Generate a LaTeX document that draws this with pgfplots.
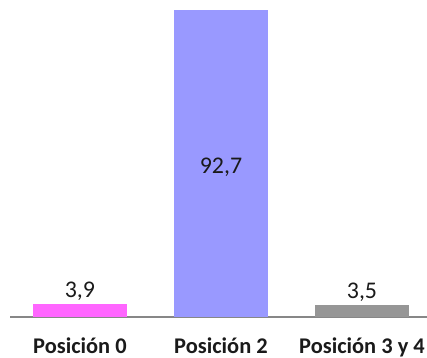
\documentclass[border=0pt]{standalone}
\usepackage{fontspec}
\setmainfont{Carlito}
\usepackage{pgfplots}
\pgfplotsset{compat=1.18}
\definecolor{rosa}{HTML}{FF66FF}
\definecolor{lila}{HTML}{9999FF}
\definecolor{gris}{HTML}{969696}
\definecolor{eje}{HTML}{878787}
\definecolor{texto}{HTML}{1A1A1A}
\begin{document}
\begin{tikzpicture}
\useasboundingbox (-10bp,-41bp) rectangle (417bp,317bp);
\begin{axis}[
  at={(0,0)}, anchor=south west,
  scale only axis, width=417bp, height=317bp,
  xmin=-0.496, xmax=2.461, ymin=0, ymax=95.6,
  enlargelimits=false,
  axis x line*=bottom, axis y line=none,
  x axis line style={eje, line width=1.5bp, -},
  xtick={0,1,2},
  xticklabels={Posición 0, Posición 2, Posición 3 y 4},
  major tick length=0pt, ytick=\empty,
  xticklabel style={font=\bfseries\fontsize{22.5}{22.5}\selectfont, text=texto, yshift=-17bp},
  ybar, bar width=0.667, bar shift=0pt,
  nodes near coords, point meta=y,
  every node near coord/.append style={font=\fontsize{24}{24}\selectfont, text=texto},
  /pgf/number format/.cd, use comma, fixed, fixed zerofill, precision=1, assume math mode=true,
  /pgfplots/.cd,
  clip=false,
]
\addplot[fill=rosa, draw=none] coordinates {(0,3.9)};
\addplot[fill=lila, draw=none,
  every node near coord/.append style={anchor=center, yshift=-158bp}] coordinates {(1,92.7)};
\addplot[fill=gris, draw=none] coordinates {(2,3.5)};
\end{axis}
\end{tikzpicture}
\end{document}
